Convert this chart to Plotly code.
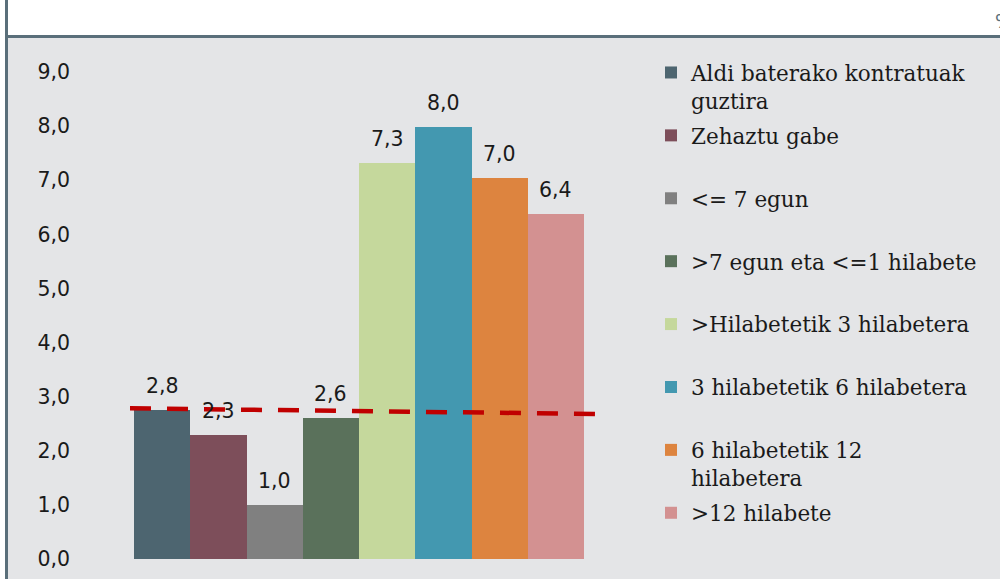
import plotly.graph_objects as go

categories = [
    "Aldi baterako kontratuak<br>guztira",
    "Zehaztu gabe",
    "<= 7 egun",
    ">7 egun eta <=1 hilabete",
    ">Hilabetetik 3 hilabetera",
    "3 hilabetetik 6 hilabetera",
    "6 hilabetetik 12<br>hilabetera",
    ">12 hilabete",
]
values = [2.76, 2.29, 1.0, 2.6, 7.32, 7.99, 7.04, 6.38]
colors = ["#4D6570", "#7D4E5A", "#808080", "#5A715B",
          "#C5D89C", "#4398B0", "#DD843F", "#D39191"]
trend_values = [2.785, 2.68]
y_ticks = [0, 1, 2, 3, 4, 5, 6, 7, 8, 9]

W, H = 1000, 579
ML, MR, MT, MB = 130, 400, 72, 20
PW, PH = W - ML - MR, H - MT - MB
x_range = [-0.571, 7.784]


def px_x(p):
    return (p - ML) / PW


def px_y(p):
    return (H - MB - p) / PH


fig = go.Figure()
for i, (name, v, c) in enumerate(zip(categories, values, colors)):
    label = name if "<br>" in name else name + "<br> "
    fig.add_trace(go.Bar(
        x=[i], y=[v], width=1, name=label, marker=dict(color=c, line=dict(width=0)),
        legendgroup=f"g{i}", showlegend=True, hoverinfo="skip",
    ))

fig.add_trace(go.Scatter(
    x=x_range, y=trend_values, mode="lines", showlegend=False,
    line=dict(color="#C00000", width=4.5, dash="21px,16px"), hoverinfo="skip",
))

annotations = []
for i, v in enumerate(values):
    annotations.append(dict(
        x=i, y=v, xref="x", yref="y", text=f"{v:.1f}".replace(".", ","),
        showarrow=False, yanchor="bottom", yshift=10,
        font=dict(family="DejaVu Sans", size=20.5, color="#1a1a1a"),
    ))
annotations.append(dict(
    x=px_x(993), y=px_y(21), xref="paper", yref="paper", text="%",
    showarrow=False, xanchor="left", yanchor="middle",
    font=dict(family="DejaVu Sans", size=19, color="#5A6F7A"),
))

shapes = [
    dict(type="rect", xref="paper", yref="paper", x0=px_x(0), x1=px_x(W),
         y0=px_y(36), y1=px_y(0), fillcolor="white", line=dict(width=0), layer="below"),
    dict(type="rect", xref="paper", yref="paper", x0=px_x(0), x1=px_x(6.5),
         y0=px_y(H), y1=px_y(0), fillcolor="white", line=dict(width=0), layer="below"),
    dict(type="line", xref="paper", yref="paper", x0=px_x(6.5), x1=px_x(W),
         y0=px_y(36.5), y1=px_y(36.5), line=dict(color="#5A6F7A", width=3)),
    dict(type="line", xref="paper", yref="paper", x0=px_x(6.5), x1=px_x(6.5),
         y0=px_y(0), y1=px_y(H), line=dict(color="#5A6F7A", width=3)),
]

fig.update_layout(
    width=W, height=H,
    margin=dict(l=ML, r=MR, t=MT, b=MB, pad=0, autoexpand=False),
    paper_bgcolor="#E4E5E7", plot_bgcolor="rgba(0,0,0,0)",
    barmode="overlay", bargap=0,
    separators=",.",
    xaxis=dict(range=x_range, showticklabels=False, showgrid=False, zeroline=False,
               showline=False, ticks=""),
    yaxis=dict(range=[0, 9], tickvals=y_ticks, tickformat=".1f", showgrid=False,
               zeroline=False, showline=False, ticks="", ticklabelstandoff=59,
               tickfont=dict(family="DejaVu Sans", size=20.5, color="#1a1a1a")),
    legend=dict(xref="container", yref="container", x=651 / W, y=1 - 52 / H,
                xanchor="left", yanchor="top",
                bgcolor="rgba(0,0,0,0)", valign="top", tracegroupgap=4,
                maxheight=560,
                font=dict(family="DejaVu Serif", size=21.5, color="#1a1a1a")),
    annotations=annotations,
    shapes=shapes,
)

fig.write_html(
    "out.html",
    config={"displayModeBar": False},
    post_script="document.body.style.margin='0';document.body.style.overflow='hidden';",
)
